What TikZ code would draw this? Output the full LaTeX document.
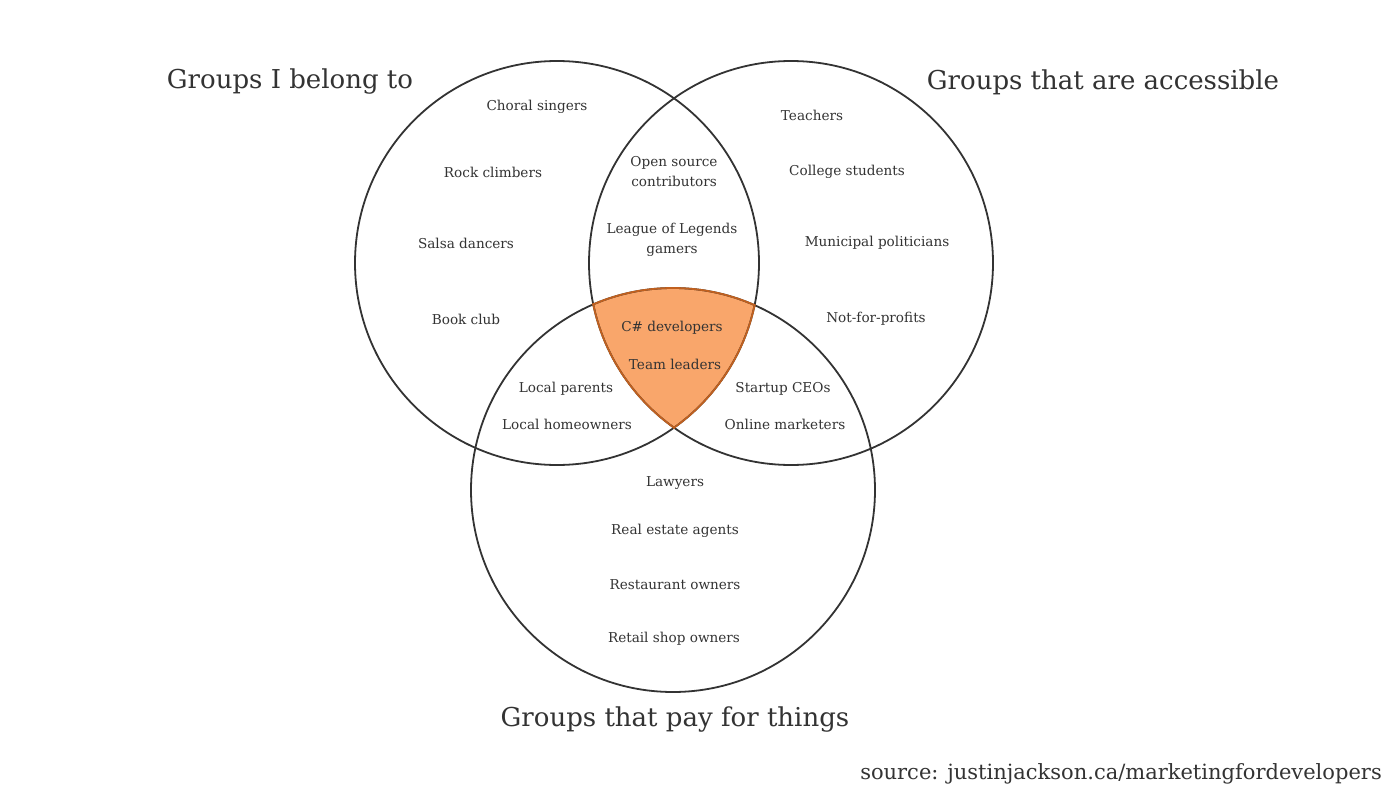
\documentclass[tikz,border=0pt]{standalone}
\usepackage{fontspec}
\setmainfont{DejaVu Serif}
\definecolor{ink}{HTML}{333333}
\definecolor{overlap}{HTML}{F9A66B}
\definecolor{overlapedge}{HTML}{C0601F}
\begin{document}
\begin{tikzpicture}[x=1pt,y=-1pt,
  ring/.style={draw=ink,line width=1.8pt},
  lbl/.style={text=ink,font=\fontsize{13.6}{20}\selectfont,align=center,inner sep=0pt,yshift=-2pt},
  title/.style={text=ink,font=\fontsize{26}{30}\selectfont,inner sep=0pt,yshift=-2pt},
  srcnote/.style={text=ink,font=\fontsize{21}{26}\selectfont,inner sep=0pt,yshift=-1pt}]
\useasboundingbox[fill=white] (0,0) rectangle (1400,800);

% circle centres
\coordinate (cL) at (557,263);
\coordinate (cR) at (791,263);
\coordinate (cB) at (673,490);

% shared region of all three sets
\begin{scope}
  \clip (cL) circle[radius=202pt];
  \clip (cR) circle[radius=202pt];
  \fill[overlap] (cB) circle[radius=202pt];
\end{scope}

\draw[ring] (cL) circle[radius=202pt];
\draw[ring] (cR) circle[radius=202pt];
\draw[ring] (cB) circle[radius=202pt];

% outline of the shared region
\begin{scope}
  \clip (cL) circle[radius=203pt];
  \clip (cR) circle[radius=203pt];
  \draw[overlapedge,line width=1.8pt] (cB) circle[radius=202pt];
\end{scope}
\begin{scope}
  \clip (cB) circle[radius=203pt];
  \clip (cR) circle[radius=203pt];
  \draw[overlapedge,line width=1.8pt] (cL) circle[radius=202pt];
\end{scope}
\begin{scope}
  \clip (cB) circle[radius=203pt];
  \clip (cL) circle[radius=203pt];
  \draw[overlapedge,line width=1.8pt] (cR) circle[radius=202pt];
\end{scope}

% set titles
\node[title] (tL) at (290,80) {Groups I belong to};
\node[title] (tR) at (1103,80) {Groups that are accessible};
\node[title] (tB) at (675,718) {Groups that pay for things};
\node[srcnote,anchor=east] (src) at (1382,773) {source: justinjackson.ca/marketingfordevelopers};

% left only
\node[lbl] (a1) at (537,105) {Choral singers};
\node[lbl] (a2) at (493,170) {Rock climbers};
\node[lbl] (a3) at (466,241) {Salsa dancers};
\node[lbl] (a4) at (466,317) {Book club};

% left and right
\node[lbl] (b1) at (674,170) {Open source\\contributors};
\node[lbl] (b2) at (672,238) {League of Legends\\gamers};

% right only
\node[lbl] (c1) at (812,113) {Teachers};
\node[lbl] (c2) at (847,170) {College students};
\node[lbl] (c3) at (877,241) {Municipal politicians};
\node[lbl] (c4) at (876,317) {Not-for-profits};

% all three
\node[lbl] (d1) at (672,326) {C\# developers};
\node[lbl] (d2) at (675,362) {Team leaders};

% left and bottom
\node[lbl] (e1) at (566,387) {Local parents};
\node[lbl] (e2) at (567,422) {Local homeowners};

% right and bottom
\node[lbl] (f1) at (783,387) {Startup CEOs};
\node[lbl] (f2) at (785,422) {Online marketers};

% bottom only
\node[lbl] (g1) at (675,481) {Lawyers};
\node[lbl] (g2) at (675,529) {Real estate agents};
\node[lbl] (g3) at (675,583) {Restaurant owners};
\node[lbl] (g4) at (674,637) {Retail shop owners};
\end{tikzpicture}
\end{document}
